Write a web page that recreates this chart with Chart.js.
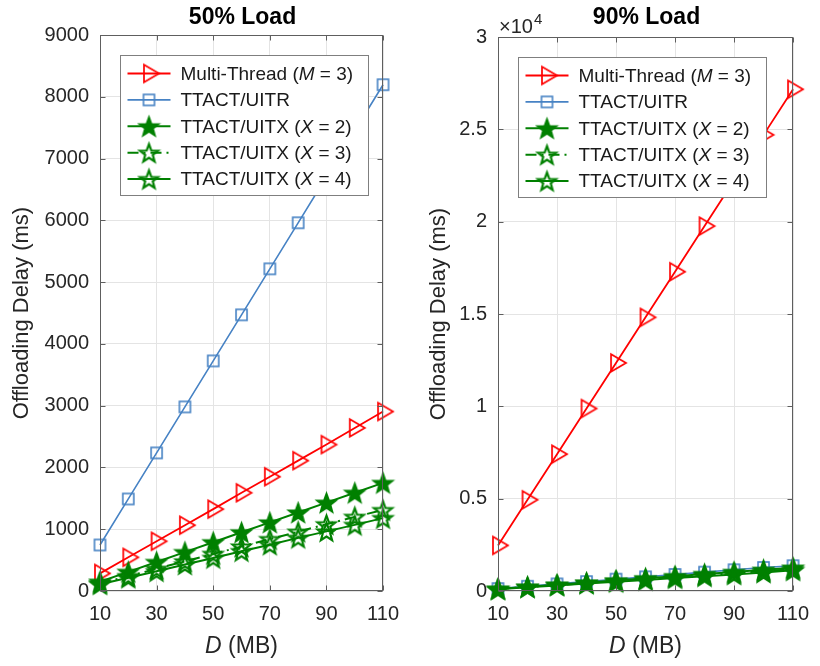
<!DOCTYPE html>
<html>
<head>
<meta charset="utf-8">
<script src="https://cdn.jsdelivr.net/npm/chart.js@4.4.0/dist/chart.umd.min.js"></script>
<style>
  body { margin: 0; background: #fff; }
  #wrap { position: relative; width: 820px; height: 666px; }
  .pane { position: absolute; top: 0; width: 410px; height: 666px; }
</style>
</head>
<body>
<div id="wrap">
  <div class="pane" style="left:0"><canvas id="load50Chart" width="410" height="666"></canvas></div>
  <div class="pane" style="left:410px"><canvas id="load90Chart" width="410" height="666"></canvas></div>
</div>
<script>
// Data size D (MB) and the x tick positions
const dMB = [10, 20, 30, 40, 50, 60, 70, 80, 90, 100, 110];
const xTickVals = [10, 30, 50, 70, 90, 110];

const seriesLabels = [
  "Multi-Thread (M = 3)",
  "TTACT/UITR",
  "TTACT/UITX (X = 2)",
  "TTACT/UITX (X = 3)",
  "TTACT/UITX (X = 4)",
];

// 50% load, delay in ms
const multiThread50 = [285, 545, 805, 1065, 1325, 1590, 1850, 2110, 2370, 2640, 2905];
const uitr50 = [745, 1490, 2235, 2980, 3725, 4470, 5215, 5960, 6705, 7450, 8195];
const uitx2_50 = [150, 310, 470, 630, 790, 950, 1110, 1270, 1430, 1590, 1750];
const uitx3_50 = [125, 240, 360, 480, 600, 720, 840, 960, 1080, 1200, 1310];
const uitx4_50 = [110, 215, 320, 430, 535, 645, 750, 860, 965, 1070, 1180];

// 90% load, delay in ms
const multiThread90 = [2470, 4940, 7410, 9880, 12350, 14820, 17290, 19760, 22230, 24700, 27170];
const uitr90 = [130, 255, 385, 510, 640, 765, 895, 1020, 1150, 1275, 1370];
const uitx2_90 = [110, 230, 345, 460, 575, 690, 805, 920, 1035, 1150, 1265];
const uitx3_90 = [105, 215, 320, 430, 535, 645, 750, 860, 965, 1075, 1190];
const uitx4_90 = [100, 200, 300, 400, 500, 600, 700, 800, 900, 1000, 1120];

const RED = "#ff0000";
const BLUE = "#4682c4";
const GREEN = "#008000";
const AXIS_COLOR = "#5e5e5e";
const TEXT_COLOR = "#262626";
const FONT = "'Liberation Sans', Arial, sans-serif";

// Marker sprites (MATLAB-like '>', 's' and 'p' markers)
function sprite(r, draw) {
  const size = Math.ceil(2 * r + 6);
  const c = document.createElement("canvas");
  c.width = size;
  c.height = size;
  const ctx = c.getContext("2d");
  draw(ctx, size / 2, size / 2);
  return c;
}

function triangleRight(r, color) {
  return sprite(r, (ctx, cx, cy) => {
    ctx.beginPath();
    ctx.moveTo(cx + r, cy);
    ctx.lineTo(cx - r / 2, cy - r * 0.866);
    ctx.lineTo(cx - r / 2, cy + r * 0.866);
    ctx.closePath();
    ctx.strokeStyle = color;
    ctx.lineWidth = 1.7;
    ctx.stroke();
  });
}

function square(half, color) {
  return sprite(half, (ctx, cx, cy) => {
    ctx.strokeStyle = color;
    ctx.lineWidth = 1.6;
    ctx.strokeRect(cx - half, cy - half, 2 * half, 2 * half);
  });
}

function pentagram(r, color, filled) {
  return sprite(r, (ctx, cx, cy) => {
    ctx.beginPath();
    for (let i = 0; i < 10; i++) {
      const rad = i % 2 === 0 ? r : r * 0.42;
      const a = -Math.PI / 2 + (i * Math.PI) / 5;
      ctx.lineTo(cx + rad * Math.cos(a), cy + rad * Math.sin(a) + 1);
    }
    ctx.closePath();
    if (filled) {
      ctx.fillStyle = color;
      ctx.fill();
    }
    ctx.strokeStyle = color;
    ctx.lineWidth = 2.2;
    ctx.lineJoin = "miter";
    ctx.stroke();
  });
}

const triMarker = triangleRight(10, RED);
const sqMarker = square(5.5, BLUE);
const starFilled = pentagram(9.5, GREEN, true);
const starOpen = pentagram(9.5, GREEN, false);

function pairs(arr) {
  return dMB.map((d, i) => ({ x: d, y: arr[i] }));
}

function buildDatasets(mt, uitr, x2, x3, x4) {
  const base = { fill: false, tension: 0, clip: false, pointRadius: 6 };
  return [
    { ...base, label: seriesLabels[0], data: pairs(mt), borderColor: RED, borderWidth: 1.8, pointStyle: triMarker, order: 5 },
    { ...base, label: seriesLabels[1], data: pairs(uitr), borderColor: BLUE, borderWidth: 1.6, pointStyle: sqMarker, order: 4 },
    { ...base, label: seriesLabels[2], data: pairs(x2), borderColor: GREEN, borderWidth: 2, pointStyle: starFilled, order: 3 },
    { ...base, label: seriesLabels[3], data: pairs(x3), borderColor: GREEN, borderWidth: 2, borderDash: [11, 5, 2, 5], pointStyle: starOpen, order: 2 },
    { ...base, label: seriesLabels[4], data: pairs(x4), borderColor: GREEN, borderWidth: 2, pointStyle: starOpen, order: 1 },
  ];
}

// Writes text where variable letters (M, X, D) are italic
function richText(ctx, text, x, y, size, align) {
  const parts = text.split(/(\b[MXD](?= =| \())/);
  const fonts = parts.map((p, i) => (i % 2 ? "italic " : "") + size + "px " + FONT);
  let total = 0;
  const widths = parts.map((p, i) => {
    ctx.font = fonts[i];
    const w = ctx.measureText(p).width;
    total += w;
    return w;
  });
  let cx = align === "center" ? x - total / 2 : x;
  ctx.textAlign = "left";
  parts.forEach((p, i) => {
    ctx.font = fonts[i];
    ctx.fillText(p, cx, y);
    cx += widths[i];
  });
}

// Axes box with inward ticks, title, x label, legend, exponent
const matlabFrame = {
  id: "matlabFrame",
  afterDatasetsDraw(chart, args, opts) {
    const { ctx, chartArea: a, scales } = chart;
    const L = Math.round(a.left) + 0.5;
    const R = Math.round(a.right) - 0.5;
    const T = Math.round(a.top) + 0.5;
    const B = Math.round(a.bottom) - 0.5;
    const tick = 5;
    ctx.save();
    ctx.strokeStyle = AXIS_COLOR;
    ctx.lineWidth = 1;
    ctx.strokeRect(L, T, R - L, B - T);
    ctx.beginPath();
    scales.x.ticks.forEach((t) => {
      const px = Math.round(scales.x.getPixelForValue(t.value)) + 0.5;
      ctx.moveTo(px, B); ctx.lineTo(px, B - tick);
      ctx.moveTo(px, T); ctx.lineTo(px, T + tick);
    });
    scales.y.ticks.forEach((t) => {
      const py = Math.round(scales.y.getPixelForValue(t.value)) + 0.5;
      ctx.moveTo(L, py); ctx.lineTo(L + tick, py);
      ctx.moveTo(R, py); ctx.lineTo(R - tick, py);
    });
    ctx.stroke();

    // legend
    const bx = Math.round(a.left) + 20.5;
    const by = Math.round(a.top) + 20.5;
    const bw = 248, bh = 140;
    ctx.fillStyle = "#fff";
    ctx.fillRect(bx, by, bw, bh);
    ctx.strokeStyle = "#7f7f7f";
    ctx.lineWidth = 1;
    ctx.strokeRect(bx, by, bw, bh);
    ctx.textBaseline = "middle";
    chart.data.datasets.forEach((ds, i) => {
      const y = by + 18 + i * 26.4;
      const x0 = bx + 7, x1 = bx + 50, xm = (x0 + x1) / 2;
      ctx.strokeStyle = ds.borderColor;
      ctx.lineWidth = ds.borderWidth;
      ctx.setLineDash(ds.borderDash || []);
      ctx.beginPath();
      ctx.moveTo(x0, y);
      ctx.lineTo(x1, y);
      ctx.stroke();
      ctx.setLineDash([]);
      const m = ds.pointStyle;
      ctx.drawImage(m, xm - m.width / 2, y - m.height / 2);
      ctx.fillStyle = "#1a1a1a";
      richText(ctx, ds.label, bx + 60, y + 1, 19, "left");
    });

    // title and x label
    const cx = (a.left + a.right) / 2;
    ctx.fillStyle = "#000";
    ctx.textAlign = "center";
    ctx.textBaseline = "alphabetic";
    ctx.font = "bold 23px " + FONT;
    ctx.fillText(opts.title, cx + 1, 24);
    ctx.fillStyle = TEXT_COLOR;
    ctx.textBaseline = "middle";
    richText(ctx, "D (MB)", cx, 647, 23, "center");

    if (opts.exponent) {
      ctx.textBaseline = "alphabetic";
      ctx.textAlign = "left";
      ctx.font = "20px " + FONT;
      ctx.fillText("\u00d710", a.left + 1, 33);
      const w = ctx.measureText("\u00d710").width;
      ctx.font = "15px " + FONT;
      ctx.fillText(String(opts.exponent), a.left + 1 + w + 1, 24);
    }
    ctx.restore();
  },
};

function makeConfig(datasets, yMax, yStep, yLabelFmt, yWidth, yTitlePad, pad, frameOpts) {
  return {
    type: "line",
    data: { datasets },
    options: {
      responsive: false,
      animation: false,
      events: [],
      layout: { padding: pad },
      plugins: {
        legend: { display: false },
        tooltip: { enabled: false },
        matlabFrame: frameOpts,
      },
      scales: {
        x: {
          type: "linear",
          min: 10,
          max: 110,
          afterBuildTicks: (scale) => {
            scale.ticks = xTickVals.map((v) => ({ value: v }));
          },
          afterFit: (scale) => { scale.height = 75; },
          grid: { color: "#e4e4e4", drawTicks: false },
          border: { display: false },
          ticks: {
            padding: 11,
            maxRotation: 0,
            color: TEXT_COLOR,
            font: { family: FONT, size: 20 },
          },
        },
        y: {
          min: 0,
          max: yMax,
          afterFit: (scale) => { scale.width = yWidth; },
          grid: { color: "#e4e4e4", drawTicks: false },
          border: { display: false },
          ticks: {
            stepSize: yStep,
            padding: 11,
            color: TEXT_COLOR,
            font: { family: FONT, size: 20 },
            callback: yLabelFmt,
          },
          title: {
            display: true,
            text: "Offloading Delay (ms)",
            color: TEXT_COLOR,
            font: { family: FONT, size: 22, lineHeight: 1 },
            padding: { top: yTitlePad, bottom: 0 },
          },
        },
      },
    },
    plugins: [matlabFrame],
  };
}

const load50Chart = document.getElementById("load50Chart");
const load90Chart = document.getElementById("load90Chart");

new Chart(
  load50Chart,
  makeConfig(
    buildDatasets(multiThread50, uitr50, uitx2_50, uitx3_50, uitx4_50),
    9000, 1000, (v) => String(v), 100, 11,
    { left: 0, top: 35, right: 9, bottom: 0 },
    { title: "50% Load" }
  )
);

new Chart(
  load90Chart,
  makeConfig(
    buildDatasets(multiThread90, uitr90, uitx2_90, uitx3_90, uitx4_90),
    30000, 5000, (v) => String(v / 10000), 88, 18,
    { left: 0, top: 37, right: 19, bottom: 0 },
    { title: "90% Load", exponent: 4 }
  )
);
</script>
</body>
</html>
